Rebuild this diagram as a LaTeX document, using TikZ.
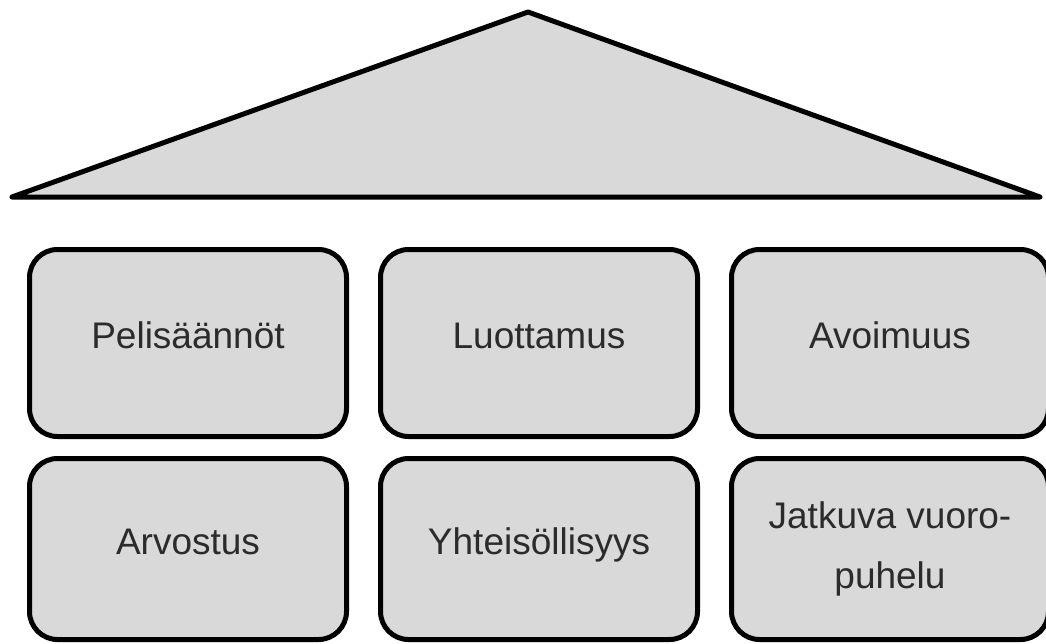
\documentclass[tikz,border=0pt]{standalone}
\usepackage{fontspec}
\setmainfont{Liberation Sans}
\usepackage{tikz}
\usetikzlibrary{positioning}
\usepackage{xcolor}
\definecolor{pillargray}{HTML}{D9D9D9}
\definecolor{pillartext}{HTML}{2B2B2B}

\begin{document}
\begin{tikzpicture}[x=1pt, y=-1pt, node distance=17pt and 29pt,
    pillar/.style={draw, line width=5pt, rounded corners=28pt, fill=pillargray,
        minimum width=317pt, minimum height=187pt, align=center, text=pillartext,
        font={\fontsize{37}{63}\selectfont}},
    oneline/.style={text height=21pt, text depth=10pt}]
    \useasboundingbox (0,0) rectangle (1046,643);

    % roof
    \coordinate (roof-left) at (12,197);
    \coordinate (roof-top) at (528,12);
    \coordinate (roof-right) at (1040,197);
    \draw[line width=5pt, line join=round, fill=pillargray] (roof-left) -- (roof-top) -- (roof-right) -- cycle;

    \node[pillar, oneline] (rules) at (188,343) {Pelisäännöt};
    \node[pillar, oneline, right=of rules] (trust) {Luottamus};
    \node[pillar, oneline, right=of trust] (openness) {Avoimuus};

    \node[pillar, oneline, below=of rules, minimum height=181pt] (respect) {Arvostus};
    \node[pillar, oneline, below=of trust, minimum height=181pt] (community) {Yhteisöllisyys};
    \node[pillar, below=of openness, minimum height=181pt] (dialogue) {Jatkuva vuoro-\\[-3pt]puhelu};
\end{tikzpicture}
\end{document}
